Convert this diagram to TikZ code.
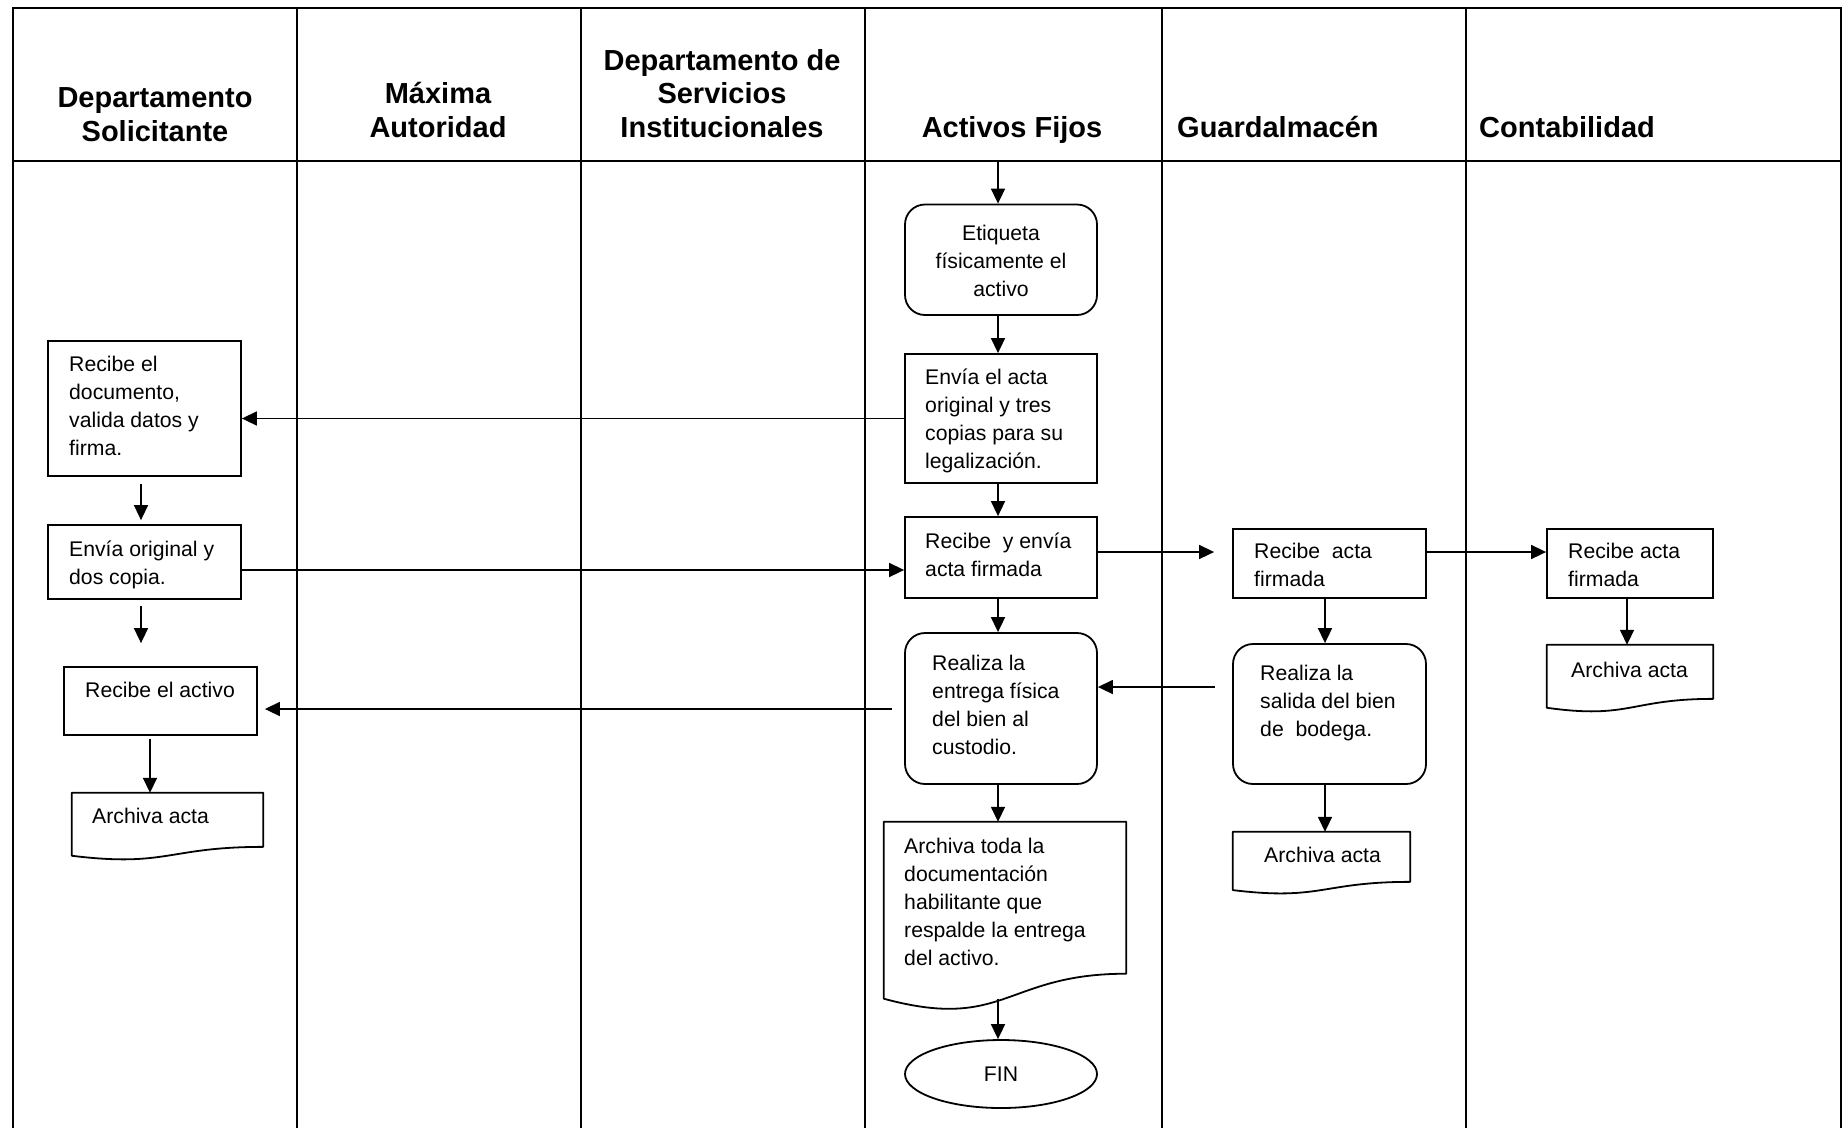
\documentclass[tikz,border=0pt]{standalone}
\usepackage{fontspec}
\setmainfont{Liberation Sans}
\usetikzlibrary{arrows.meta,calc,shapes.geometric}

% multi-line text blocks: [t] keeps the node baseline on the first line
\newcommand\lefttext[1]{\begin{tabular}[t]{@{}l@{}}#1\end{tabular}}
\newcommand\centertext[1]{\begin{tabular}[t]{@{}c@{}}#1\end{tabular}}
% header blocks: [b] keeps the node baseline on the last line
\newcommand\headtext[1]{\begin{tabular}[b]{@{}c@{}}#1\end{tabular}}

% outline of a flowchart "document" symbol drawn over a named box
\newcommand\docoutline[1]{%
  \draw[docline] (#1.north west) -- (#1.north east)
    -- ($(#1.north east)!0.802!(#1.south east)$)
    .. controls ($(#1.north)!0.802!(#1.south)$) and ($(#1.north)!1.1075!(#1.south)$)
    .. ($(#1.north west)!0.934!(#1.south west)$) -- cycle;}

\begin{document}
\begin{tikzpicture}[x=1pt,y=-1pt,
  frame/.style={line width=2.8pt},
  lane/.style={line width=2pt},
  stepbox/.style={draw, rectangle, line width=1.8pt, inner sep=0pt},
  roundbox/.style={stepbox, rounded corners=20pt},
  docbox/.style={rectangle, inner sep=0pt},
  docline/.style={line width=1.8pt, line join=round},
  body/.style={inner sep=0pt, font=\fontsize{21.2}{28.2}\selectfont},
  head/.style={inner sep=0pt, font=\fontsize{29}{33.5}\selectfont\bfseries},
  arr/.style={line width=1.6pt, -{Triangle[length=15pt,width=14pt]}},
]
\useasboundingbox (0,0) rectangle (1843,1128);

% swimlane frame
\draw[frame] (13,1128) -- (13,8) -- (1841,8) -- (1841,1128);
\draw[frame] (13,161) -- (1841,161);
\foreach \x in {297,581,865,1162,1466} \draw[lane] (\x,8) -- (\x,1128);

% lane titles
\node[head, anchor=base] (hDS)  at (155,141)  {\headtext{Departamento\\Solicitante}};
\node[head, anchor=base] (hMA)  at (438,137)  {\headtext{Máxima\\Autoridad}};
\node[head, anchor=base] (hDSI) at (722,137)  {\headtext{Departamento de\\Servicios\\Institucionales}};
\node[head, anchor=base] (hAF)  at (1012,137) {Activos Fijos};
\node[head, anchor=base west] (hGA) at (1177,137) {Guardalmacén};
\node[head, anchor=base west] (hCO) at (1479,137) {Contabilidad};

% Activos Fijos
\node[roundbox, minimum width=192pt, minimum height=110.5pt] (E) at (1001,259.75) {};
\node[stepbox,  minimum width=192pt, minimum height=129pt]   (A) at (1001,418.5) {};
\node[stepbox,  minimum width=192pt, minimum height=81pt]    (R) at (1001,557.5) {};
\node[roundbox, minimum width=192pt, minimum height=151pt]   (P) at (1001,708.5) {};
\node[docbox,   minimum width=242pt, minimum height=189pt]   (D) at (1005,916.5) {};
\node[draw, ellipse, line width=1.8pt, minimum width=192pt, minimum height=68pt,
      body] (FIN) at (1001,1074) {FIN};

% Departamento Solicitante
\node[stepbox, minimum width=193pt, minimum height=135pt] (L1) at (144.5,408.5) {};
\node[stepbox, minimum width=193pt, minimum height=74pt]  (L2) at (144.5,562) {};
\node[stepbox, minimum width=193pt, minimum height=68pt]  (L3) at (160.5,701) {};
\node[docbox,  minimum width=191pt, minimum height=67pt]  (L4) at (167.5,826.5) {};

% Guardalmacén
\node[stepbox,  minimum width=193pt, minimum height=69pt]  (G1) at (1329.5,563.5) {};
\node[roundbox, minimum width=193pt, minimum height=140pt] (G2) at (1329.5,714) {};
\node[docbox,   minimum width=177pt, minimum height=62pt]  (G3) at (1321.5,863) {};

% Contabilidad
\node[stepbox, minimum width=166pt, minimum height=69pt] (C1) at (1630,563.5) {};
\node[docbox,  minimum width=166pt, minimum height=67pt] (C2) at (1630,678.5) {};

\docoutline{D}
\docoutline{L4}
\docoutline{G3}
\docoutline{C2}

% box texts
\node[body, anchor=base] (tE) at (1001,240) {\centertext{Etiqueta\\físicamente el\\activo}};
\begin{scope}
  \clip (906,356) rectangle (1096,472);
  \node[body, anchor=base west] (tA) at (925,384) {\lefttext{Envía el acta\\original y tres\\copias para su\\legalización.}};
\end{scope}
\node[body, anchor=base west] (tR) at (925,548) {\lefttext{Recibe~ y envía\\acta firmada}};
\node[body, anchor=base west] (tP) at (932,670) {\lefttext{Realiza la\\entrega física\\del bien al\\custodio.}};
\node[body, anchor=base west] (tD) at (904,853) {\lefttext{Archiva toda la\\documentación\\habilitante que\\respalde la entrega\\del activo.}};

\node[body, anchor=base west] (tL1) at (69,371) {\lefttext{Recibe el\\documento,\\valida datos y\\firma.}};
\node[body, anchor=base west] (tL2) at (69,556) {\lefttext{Envía original y\\dos copia.}};
\node[body, anchor=base west] (tL3) at (85,697) {Recibe el activo};
\node[body, anchor=base west] (tL4) at (92,823) {Archiva acta};

\node[body, anchor=base west] (tG1) at (1254,558) {\lefttext{Recibe~ acta\\firmada}};
\node[body, anchor=base west] (tG2) at (1260,680.5) {\lefttext{Realiza la\\salida del bien\\de~ bodega.}};
\node[body, anchor=base west] (tG3) at (1264,862.7) {Archiva acta};

\node[body, anchor=base west] (tC1) at (1568,558) {\lefttext{Recibe acta\\firmada}};
\node[body, anchor=base west] (tC2) at (1571,677) {Archiva acta};

% guide coordinates for connector lines
\coordinate (hdr) at (0,161);
\coordinate (xaf) at (998,0);
\coordinate (xl)  at (141,0);
\coordinate (xl2) at (150,0);
\coordinate (xg)  at (1325,0);
\coordinate (xc)  at (1627,0);
\coordinate (yB)  at (0,570);
\coordinate (yC)  at (0,552);
\coordinate (yD)  at (0,687);
\coordinate (yE)  at (0,709);
\coordinate (dbot) at ($(D.north west)!0.933!(D.south west)$);

% Activos Fijos flow
\draw[arr] (xaf |- hdr) -- (xaf |- E.north);
\draw[arr] (xaf |- E.south) -- (xaf |- A.north);
\draw[arr] (xaf |- A.south) -- (xaf |- R.north);
\draw[arr] (xaf |- R.south) -- (xaf |- P.north);
\draw[arr] (xaf |- P.south) -- (xaf |- D.north);
\draw[arr] (xaf |- dbot) -- (xaf |- FIN.north);

% between lanes
\draw[arr] (A.west) -- (A.west -| L1.east);
\draw[arr] (L2.east |- yB) -- (R.west |- yB);
\draw[arr, shorten >=18pt] (R.east |- yC) -- (G1.west |- yC);
\draw[arr] (G1.east |- yC) -- (C1.west |- yC);
\draw[arr, shorten <=17pt] (G2.west |- yD) -- (P.east |- yD);
\draw[arr, shorten <=12pt, shorten >=7pt] (P.west |- yE) -- (L3.east |- yE);

% Departamento Solicitante flow
\draw[arr, shorten <=7pt, shorten >=4pt] (xl |- L1.south) -- (xl |- L2.north);
\draw[arr, shorten <=6pt, shorten >=23pt] (xl |- L2.south) -- (xl |- L3.north);
\draw[arr, shorten <=3pt] (xl2 |- L3.south) -- (xl2 |- L4.north);

% Guardalmacén and Contabilidad flow
\draw[arr] (xg |- G1.south) -- (xg |- G2.north);
\draw[arr] (xg |- G2.south) -- (xg |- G3.north);
\draw[arr] (xc |- C1.south) -- (xc |- C2.north);
\end{tikzpicture}
\end{document}
